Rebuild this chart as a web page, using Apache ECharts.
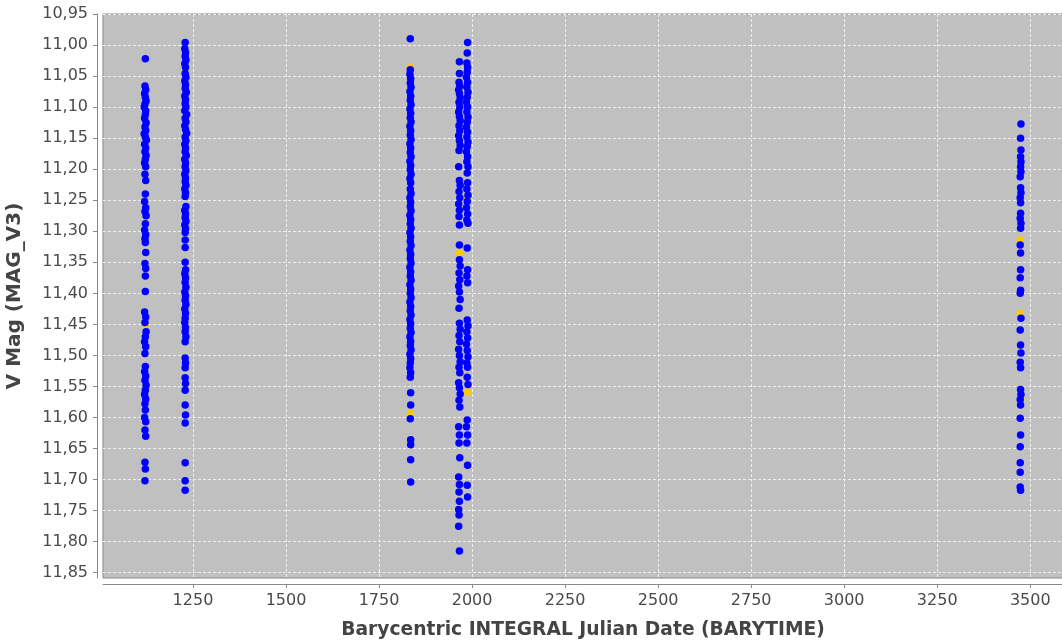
<!DOCTYPE html>
<html>
<head>
<meta charset="utf-8">
<script src="https://cdn.jsdelivr.net/npm/echarts@6/dist/echarts.min.js"></script>
<style>
  html, body { margin: 0; padding: 0; background: #ffffff; }
  #chart { width: 1062px; height: 641px; }
</style>
</head>
<body>
<div id="chart"></div>
<script>
// Tick positions
const jdTicks = [1250, 1500, 1750, 2000, 2250, 2500, 2750, 3000, 3250, 3500];
const magTicks = [10.95, 11.00, 11.05, 11.10, 11.15, 11.20, 11.25, 11.30, 11.35, 11.40,
                  11.45, 11.50, 11.55, 11.60, 11.65, 11.70, 11.75, 11.80, 11.85];

// Observation groups: [BARYTIME, V magnitude]
const groupA = [
  [1122,11.022],[1121,11.066],[1123,11.072],[1120,11.078],[1122,11.084],[1124,11.090],[1121,11.095],
  [1119,11.100],[1123,11.106],[1122,11.112],[1120,11.118],[1124,11.125],[1121,11.132],[1123,11.138],
  [1119,11.143],[1122,11.148],[1125,11.153],[1120,11.160],[1123,11.166],[1121,11.172],[1124,11.178],
  [1122,11.184],[1120,11.190],[1123,11.196],[1121,11.208],[1123,11.218],[1122,11.240],[1120,11.252],
  [1123,11.262],[1121,11.268],[1124,11.275],[1122,11.288],[1120,11.298],[1123,11.305],[1121,11.312],
  [1122,11.318],[1123,11.334],[1121,11.352],[1123,11.360],[1122,11.372],[1122,11.397],[1120,11.430],
  [1123,11.438],[1121,11.447],[1124,11.462],[1122,11.470],[1120,11.478],[1123,11.486],[1121,11.497],
  [1122,11.518],[1120,11.526],[1123,11.533],[1121,11.540],[1124,11.548],[1122,11.556],[1120,11.563],
  [1123,11.570],[1121,11.578],[1122,11.588],[1120,11.600],[1123,11.607],[1121,11.620],[1123,11.630],
  [1121,11.672],[1122,11.683],[1121,11.702]
];
const groupB = [
  [1229,10.996],[1228,11.006],[1230,11.012],[1229,11.018],[1231,11.024],[1228,11.030],[1230,11.036],
  [1229,11.046],[1231,11.052],[1228,11.058],[1230,11.064],[1229,11.070],[1232,11.076],[1228,11.082],
  [1230,11.088],[1229,11.094],[1231,11.100],[1228,11.106],[1233,11.112],[1229,11.118],[1231,11.124],
  [1228,11.130],[1230,11.136],[1233,11.142],[1229,11.148],[1231,11.154],[1228,11.160],[1230,11.166],
  [1229,11.172],[1232,11.178],[1228,11.184],[1230,11.190],[1229,11.196],[1231,11.202],[1228,11.208],
  [1230,11.214],[1229,11.220],[1231,11.226],[1228,11.232],[1230,11.238],[1229,11.244],[1231,11.260],
  [1228,11.266],[1230,11.272],[1229,11.278],[1231,11.284],[1228,11.290],[1230,11.296],[1229,11.302],
  [1229,11.314],[1229,11.326],[1229,11.350],[1230,11.362],[1228,11.368],[1230,11.375],[1229,11.382],
  [1231,11.390],[1228,11.398],[1230,11.404],[1229,11.411],[1231,11.418],[1228,11.425],[1230,11.432],
  [1229,11.440],[1228,11.447],[1230,11.455],[1229,11.462],[1231,11.470],[1229,11.478],[1229,11.504],
  [1230,11.512],[1229,11.520],[1229,11.536],[1230,11.545],[1229,11.556],[1229,11.580],[1230,11.596],
  [1229,11.609],[1229,11.673],[1229,11.702],[1229,11.717]
];
const groupC = [
  [1834,10.990],[1834,11.040],[1833,11.047],[1835,11.054],[1834,11.061],[1836,11.068],[1833,11.075],
  [1835,11.082],[1834,11.089],[1836,11.096],[1833,11.103],[1835,11.110],[1834,11.117],[1836,11.124],
  [1833,11.131],[1835,11.138],[1834,11.145],[1836,11.152],[1833,11.159],[1835,11.166],[1834,11.173],
  [1836,11.180],[1833,11.187],[1835,11.194],[1834,11.201],[1836,11.208],[1833,11.215],[1835,11.222],
  [1834,11.232],[1836,11.239],[1833,11.246],[1835,11.253],[1834,11.260],[1836,11.267],[1833,11.274],
  [1835,11.281],[1834,11.288],[1836,11.295],[1833,11.302],[1835,11.309],[1834,11.316],[1836,11.323],
  [1833,11.330],[1835,11.337],[1834,11.344],[1836,11.351],[1833,11.358],[1835,11.365],[1834,11.372],
  [1836,11.379],[1833,11.386],[1835,11.393],[1834,11.400],[1836,11.407],[1833,11.414],[1835,11.421],
  [1834,11.428],[1836,11.435],[1833,11.442],[1835,11.449],[1834,11.456],[1836,11.463],[1833,11.470],
  [1835,11.477],[1834,11.484],[1836,11.491],[1833,11.498],[1835,11.505],[1834,11.512],[1833,11.520],
  [1835,11.528],[1834,11.535],[1835,11.560],[1835,11.580],[1834,11.602],[1835,11.636],[1835,11.644],
  [1835,11.668],[1835,11.704]
];
const groupD1 = [
  [1966,11.027],[1966,11.046],[1965,11.060],[1967,11.066],[1964,11.072],[1966,11.078],[1968,11.085],
  [1965,11.092],[1967,11.100],[1964,11.108],[1966,11.115],[1968,11.122],[1965,11.130],[1967,11.138],
  [1964,11.146],[1966,11.154],[1968,11.162],[1965,11.170],[1964,11.196],[1966,11.218],[1968,11.226],
  [1965,11.236],[1967,11.246],[1964,11.256],[1966,11.266],[1965,11.276],[1966,11.290],[1966,11.322],
  [1966,11.346],[1968,11.356],[1965,11.367],[1967,11.378],[1964,11.388],[1966,11.398],[1968,11.410],
  [1965,11.424],[1966,11.448],[1968,11.458],[1965,11.468],[1967,11.478],[1964,11.490],[1966,11.500],
  [1968,11.510],[1965,11.519],[1967,11.528],[1964,11.544],[1966,11.552],[1968,11.562],[1965,11.572],
  [1967,11.583],[1964,11.615],[1966,11.628],[1965,11.641],[1967,11.665],[1964,11.696],[1966,11.708],
  [1965,11.720],[1966,11.735],[1964,11.748],[1965,11.757],[1964,11.775],[1966,11.815]
];
const groupD2 = [
  [1988,10.996],[1987,11.013],[1986,11.029],[1988,11.036],[1987,11.044],[1985,11.052],[1988,11.060],
  [1986,11.068],[1989,11.076],[1987,11.084],[1985,11.092],[1988,11.100],[1986,11.108],[1989,11.116],
  [1987,11.124],[1985,11.132],[1988,11.140],[1986,11.148],[1989,11.156],[1987,11.164],[1985,11.172],
  [1988,11.180],[1986,11.188],[1989,11.196],[1987,11.206],[1988,11.222],[1986,11.232],[1989,11.242],
  [1987,11.252],[1985,11.262],[1988,11.272],[1986,11.282],[1989,11.287],[1987,11.327],[1988,11.362],
  [1986,11.372],[1988,11.383],[1987,11.443],[1989,11.452],[1986,11.462],[1988,11.472],[1985,11.482],
  [1987,11.492],[1989,11.502],[1986,11.512],[1988,11.519],[1987,11.535],[1989,11.547],[1987,11.604],
  [1985,11.615],[1988,11.628],[1986,11.641],[1988,11.677],[1987,11.709],[1988,11.728]
];
const groupE = [
  [3475,11.127],[3474,11.150],[3475,11.169],[3474,11.180],[3475,11.188],[3474,11.196],[3475,11.204],
  [3473,11.212],[3474,11.230],[3475,11.238],[3473,11.246],[3474,11.254],[3474,11.271],[3473,11.279],
  [3475,11.287],[3474,11.295],[3473,11.322],[3474,11.335],[3474,11.362],[3473,11.375],[3474,11.395],
  [3473,11.400],[3475,11.440],[3473,11.459],[3474,11.483],[3475,11.496],[3473,11.511],[3474,11.520],
  [3474,11.555],[3475,11.563],[3473,11.571],[3474,11.580],[3473,11.601],[3474,11.628],[3473,11.647],
  [3473,11.673],[3473,11.688],[3473,11.712],[3474,11.717]
];
// Second set of measurements, drawn underneath
const flagged = [
  [1229,11.040],[1122,11.450],[1834,11.036],[1833,11.131],[1834,11.300],[1834,11.593],
  [1966,11.075],[1965,11.156],[1966,11.335],[1988,11.115],[1988,11.246],[1988,11.559],
  [3473,11.314],[3473,11.432],[3475,11.570]
];

const mainPoints = [].concat(groupA, groupB, groupC, groupD1, groupD2, groupE);

const fmtMag = v => v.toFixed(2).replace('.', ',');
const tickFont = { fontFamily: 'DejaVu Sans', fontSize: 16, color: '#4a4a4a' };

const chart = echarts.init(document.getElementById('chart'), null, { renderer: 'canvas' });
chart.setOption({
  animation: false,
  backgroundColor: '#ffffff',
  grid: {
    left: 103, right: -1, top: 14, bottom: 63,
    outerBoundsMode: 'none',
    containLabel: false,
    show: true, backgroundColor: '#c0c0c0', borderColor: '#888888', borderWidth: 1
  },
  xAxis: {
    type: 'value',
    min: 1008.2, max: 3588,
    offset: 6,
    name: 'Barycentric INTEGRAL Julian Date (BARYTIME)',
    nameLocation: 'middle',
    nameGap: 37,
    nameTextStyle: { fontFamily: 'DejaVu Sans', fontSize: 18.7, fontWeight: 'bold', color: '#444444' },
    axisLine: { show: true, lineStyle: { color: '#888888', width: 1 } },
    axisTick: { show: true, length: 4, customValues: jdTicks, lineStyle: { color: '#888888' } },
    axisLabel: Object.assign({ customValues: jdTicks, margin: 9, formatter: v => String(v) }, tickFont),
    splitLine: { show: true, lineStyle: { color: '#eeeeee', type: [3, 2], width: 1 } }
  },
  yAxis: {
    type: 'value',
    inverse: true,
    min: 10.95, max: 11.8585,
    offset: 6,
    name: 'V Mag (MAG_V3)',
    nameLocation: 'middle',
    nameGap: 72,
    nameRotate: 90,
    nameTextStyle: { fontFamily: 'DejaVu Sans', fontSize: 20, fontWeight: 'bold', color: '#444444' },
    axisLine: { show: true, lineStyle: { color: '#888888', width: 1 } },
    axisTick: { show: true, length: 4, customValues: magTicks, lineStyle: { color: '#888888' } },
    axisLabel: Object.assign({ customValues: magTicks, margin: 9, formatter: fmtMag }, tickFont),
    splitLine: { show: true, lineStyle: { color: '#eeeeee', type: [3, 2], width: 1 } }
  },
  series: [
    {
      type: 'scatter',
      data: flagged,
      symbol: 'circle',
      symbolSize: 7.5,
      itemStyle: { color: '#ffc800', opacity: 1 },
      silent: true
    },
    {
      type: 'scatter',
      data: mainPoints,
      symbol: 'circle',
      symbolSize: 7.5,
      itemStyle: { color: '#0000ff', opacity: 1 },
      silent: true
    }
  ]
});
</script>
</body>
</html>
